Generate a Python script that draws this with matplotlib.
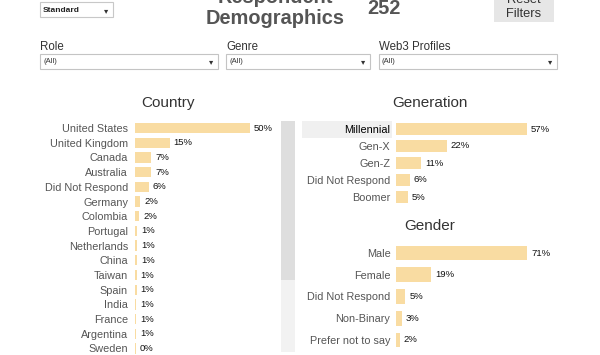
import matplotlib
matplotlib.use("Agg")
import matplotlib.pyplot as plt
from matplotlib.patches import Rectangle

plt.rcParams['font.family'] = ['Liberation Sans', 'DejaVu Sans']

# ---- data ----
country_labels = ["United States", "United Kingdom", "Canada", "Australia", "Did Not Respond",
                  "Germany", "Colombia", "Portugal", "Netherlands", "China", "Taiwan", "Spain",
                  "India", "France", "Argentina", "Sweden"]
country_values = [50, 15, 7, 7, 6, 2, 2, 1, 1, 1, 1, 1, 1, 1, 1, 0]
country_bar_values = [50, 15, 7, 7, 6, 2.2, 1.8, 0.9, 0.9, 0.9, 0.7, 0.7, 0.6, 0.6, 0.6, 0.3]

generation_labels = ["Millennial", "Gen-X", "Gen-Z", "Did Not Respond", "Boomer"]
generation_values = [57, 22, 11, 6, 5]

gender_labels = ["Male", "Female", "Did Not Respond", "Non-Binary", "Prefer not to say"]
gender_values = [71, 19, 5, 3, 2]

filter_labels = ["Role", "Genre", "Web3 Profiles"]
respondent_count = "252"

BAR = "#f9dca2"
W, H = 600, 355
fig = plt.figure(figsize=(6, 3.55), dpi=100)
fig.patch.set_facecolor("white")

bg = fig.add_axes([0, 0, 1, 1])
bg.set_xlim(0, W)
bg.set_ylim(H, 0)
bg.axis("off")

# Standard dropdown
bg.add_patch(Rectangle((40, 2), 73, 15, facecolor="white", edgecolor="#c8c8c8", lw=0.8))
bg.text(43, 10, "Standard", fontsize=6, fontweight="bold", color="#222", va="center")
bg.text(106, 10.5, "▾", fontsize=6, color="#333", va="center", ha="center", family="DejaVu Sans")

# Title
bg.text(275, 3, "Respondent", fontsize=14.4, fontweight="bold", color="#555", ha="center", va="baseline")
bg.text(275, 24, "Demographics", fontsize=14.4, fontweight="bold", color="#555", ha="center", va="baseline")
bg.text(384, 14, respondent_count, fontsize=14.4, fontweight="bold", color="#555", ha="center", va="baseline")

# Reset Filters button
bg.add_patch(Rectangle((494, -2), 60, 24, facecolor="#e6e6e6", edgecolor="none"))
bg.text(524, 3, "Reset", fontsize=9.3, color="#333", ha="center", va="baseline")
bg.text(524, 17, "Filters", fontsize=9.3, color="#333", ha="center", va="baseline")

# Filter dropdowns
boxes = [(40, 218), (226, 370), (379, 557)]
for lab, (x0, x1) in zip(filter_labels, boxes):
    bg.text(x0, 50, lab, fontsize=8.3, color="#333", va="baseline")
    bg.add_patch(Rectangle((x0, 54), x1 - x0, 15, facecolor="white", edgecolor="#c4c4c4", lw=0.8))
    bg.text(x0 + 3, 61.5, "(All)", fontsize=5.5, color="#333", va="center")
    bg.text(x1 - 7, 62, "▾", fontsize=6, color="#333", va="center", ha="center", family="DejaVu Sans")

# Chart titles
bg.text(168, 103, "Country", fontsize=11, color="#333", ha="center", va="center")
bg.text(430, 103, "Generation", fontsize=11, color="#333", ha="center", va="center")
bg.text(430, 226, "Gender", fontsize=11, color="#333", ha="center", va="center")

# Scrollbar
bg.add_patch(Rectangle((281, 280), 14, 72, facecolor="#f2f2f2", edgecolor="none"))
bg.add_patch(Rectangle((281, 121), 14, 159, facecolor="#dedede", edgecolor="none"))

# Millennial highlight band
bg.add_patch(Rectangle((302, 120.5), 90, 17, facecolor="#f0f0f0", edgecolor="none"))


def bar_chart(labels, values, x0, x1, row0, dy, bottom_px, px_per_pct, height, label_pad, bar_vals=None):
    n_bottom = (bottom_px - row0) / dy
    top_px = row0 - dy / 2
    ax = fig.add_axes([x0 / W, 1 - bottom_px / H, (x1 - x0) / W, (bottom_px - top_px) / H])
    ax.set_facecolor("none")
    ax.set_xlim(0, (x1 - x0) / px_per_pct)
    ax.set_ylim(n_bottom, -0.5)
    pos = list(range(len(labels)))
    bv = bar_vals if bar_vals is not None else values
    ax.barh(pos, bv, height=height, color=BAR, edgecolor="none")
    for i, (v, b) in enumerate(zip(values, bv)):
        ax.annotate(f"{v}%", (b, i), xytext=(4, 0), textcoords="offset pixels",
                    fontsize=6.8, color="#111", va="center", ha="left", annotation_clip=False)
    ax.set_yticks(pos)
    ax.set_yticklabels(labels, fontsize=7.8, color="#555")
    ax.tick_params(axis="y", length=0, pad=label_pad)
    ax.set_xticks([])
    for s in ax.spines.values():
        s.set_visible(False)
    return ax


bar_chart(country_labels, country_values, 135, 280, 128, 14.7, 355, 2.3, 0.7, 5,
          bar_vals=country_bar_values)
gax = bar_chart(generation_labels, generation_values, 396, 560, 129, 17, 205.5, 2.3, 0.76, 4)
gax.get_yticklabels()[0].set_color("black")
bar_chart(gender_labels, gender_values, 396, 560, 253, 21.75, 351, 1.845, 0.68, 4)

fig.savefig("out.png", dpi=100)
